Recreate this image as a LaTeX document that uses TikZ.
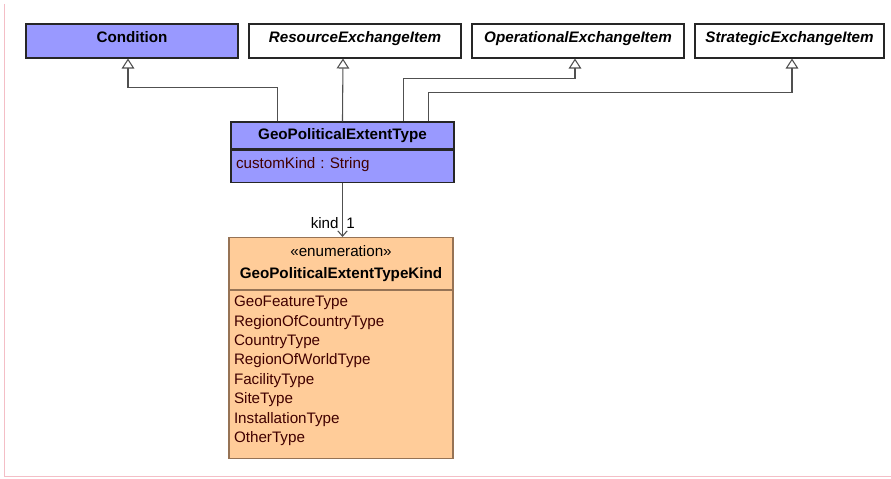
\documentclass[tikz,border=0pt]{standalone}
\usepackage{fontspec}
\setmainfont{Liberation Sans}
\usetikzlibrary{arrows.meta,positioning,calc}
\definecolor{classblue}{RGB}{153,153,255}
\definecolor{enumpeach}{RGB}{255,204,153}
\definecolor{enumline}{RGB}{150,115,85}
\definecolor{attrtext}{RGB}{64,0,0}
\definecolor{framepink}{RGB}{244,190,198}
\definecolor{linkgray}{RGB}{80,80,80}
\frenchspacing

\begin{document}
\begin{tikzpicture}[x=0.75pt,y=-0.75pt,
  topbox/.style={draw=black!85,line width=0.8pt,inner sep=0pt,minimum height=25.5pt,minimum width=159pt,text height=8pt,text depth=6pt,font=\fontsize{11.4}{13}\selectfont\bfseries\itshape},
  condbox/.style={topbox,fill=classblue,font=\fontsize{11.4}{13}\selectfont\bfseries},
  classhead/.style={draw=black!85,line width=0.8pt,fill=classblue,inner sep=0pt,minimum width=167.25pt,minimum height=20.25pt,text height=8pt,text depth=2pt,font=\fontsize{11.4}{13}\selectfont\bfseries},
  classattr/.style={draw=black!85,line width=0.8pt,fill=classblue,inner xsep=3.75pt,inner ysep=0pt,text width=159.75pt,align=left,minimum height=24pt,text height=8pt,text depth=4.5pt,text=attrtext,font=\fontsize{11.4}{13}\selectfont},
  enumhead/.style={draw=enumline,line width=0.8pt,fill=enumpeach,inner sep=0pt,minimum width=168pt,minimum height=39pt,align=center,font=\fontsize{11.4}{16.5}\selectfont},
  enumattr/.style={draw=enumline,line width=0.8pt,fill=enumpeach,inner xsep=3.75pt,inner ysep=0pt,text width=160.5pt,align=left,minimum height=126pt,text height=8pt,text depth=110pt,text=attrtext,font=\fontsize{11.4}{14.55}\selectfont},
  gen/.style={draw=linkgray,line width=0.8pt,-{Triangle[open,width=9.5pt,length=7.5pt]}},
  assoc/.style={draw=linkgray,line width=0.8pt,-{Straight Barb[length=4pt,width=7pt]}},
  rolelabel/.style={inner sep=2.5pt,font=\fontsize{11.4}{13}\selectfont}]
\useasboundingbox (0,0) rectangle (891,478);
\draw[framepink,line width=0.6pt] (4,4) -- (4,476) -- (891,476);
\node[condbox] (cond) at (132,41) {Condition};
\node[topbox] (res) at (355,41) {ResourceExchangeItem};
\node[topbox] (op) at (578,41) {OperationalExchangeItem};
\node[topbox,minimum width=141.75pt] (str) at (789.5,41) {StrategicExchangeItem};
\node[classhead] (geo) at (342.5,135.5) {GeoPoliticalExtentType};
\node[classattr,below=0pt of geo] (geoattr) {customKind : String};
\node[enumhead,anchor=north] (enumhead) at (341,237) {«enumeration»\\\textbf{GeoPoliticalExtentTypeKind}};
\node[enumattr,below=0pt of enumhead] (enumattr) {GeoFeatureType\\RegionOfCountryType\\CountryType\\RegionOfWorldType\\FacilityType\\SiteType\\InstallationType\\OtherType};
\draw[gen] ($(geo.north west)+(47,0)$) -- ++(0,-34) -| ($(cond.south)+(-4,0)$);
\draw[gen] ($(geo.north west)+(112,0)$) -- ($(res.south)+(-12,0)$);
\draw[gen] ($(geo.north west)+(173,0)$) -- ++(0,-43) -| ($(op.south)+(-3,0)$);
\draw[gen] ($(geo.north west)+(198,0)$) -- ++(0,-29) -| ($(str.south)+(2.5,0)$);
\draw[assoc] (geoattr.south) -- node[rolelabel,pos=0.75,left] (kindlabel) {kind} node[rolelabel,pos=0.75,right] (multlabel) {1} (geoattr.south |- enumhead.north);
\end{tikzpicture}
\end{document}
